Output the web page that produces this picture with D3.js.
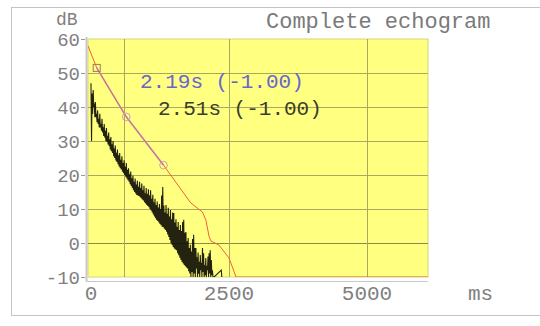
<!DOCTYPE html>
<html>
<head>
<meta charset="utf-8">
<script src="https://cdn.jsdelivr.net/npm/d3@7"></script>
<style>
  body { margin: 0; background: #fff; }
  text { font-family: "Liberation Mono", "Courier New", monospace; }
</style>
</head>
<body>
<div id="chart-area"></div>
<script>
/*
*    echogram
*/

// axis ticks
var yTicks = [60, 50, 40, 30, 20, 10, 0, -10];
var xTickLabels = [0, 2500, 5000];
var xGrid = [600, 2500, 5000];

// decay curve (red)
var redTime = [-54, 104, 639, 1314, 1807, 2020, 2080, 2141, 2172, 2318, 2500, 2628, 6105];
var redDb   = [58, 51.5, 37.1, 22.9, 11.8, 9.1, 6.8, 1.8, 0.6, -0.6, -4.4, -10, -10];

// evaluation points
var markerTime = [104, 639, 1314];
var markerDb   = [51.5, 37.1, 22.9];

// echogram samples (ms)
var echoTime = [0, 20, 40, 60, 80, 100, 120, 140, 160, 180,
	200, 220, 240, 260, 280, 300, 320, 340, 360, 380,
	400, 420, 440, 460, 480, 500, 520, 540, 560, 580,
	600, 620, 640, 660, 680, 700, 720, 740, 760, 780,
	800, 820, 840, 860, 880, 900, 920, 940, 960, 980,
	1000, 1020, 1040, 1060, 1080, 1100, 1120, 1140, 1160, 1180,
	1200, 1220, 1240, 1260, 1280, 1300, 1320, 1340, 1360, 1380,
	1400, 1420, 1440, 1460, 1480, 1500, 1520, 1540, 1560, 1580,
	1600, 1620, 1640, 1660, 1680, 1700, 1720, 1740, 1760, 1780,
	1800, 1820, 1840, 1860, 1880, 1900, 1920, 1940, 1960, 1980,
	2000, 2020, 2040, 2060, 2080, 2100, 2120, 2140, 2160, 2180,
	2200, 2220, 2360];
var echoHigh = [47, 44, 45, 41, 41.5, 38, 39, 36.5, 38, 35,
	36.5, 34, 35, 33, 33.8, 31.5, 32.5, 30.5, 31.2, 29,
	30, 27.8, 28.7, 26.5, 27.5, 25.8, 26.5, 24.5, 25.5, 23.5,
	24.3, 22.4, 23.5, 21.5, 22, 20.2, 21, 19, 19.8, 18,
	19, 17.2, 18.3, 16.5, 18, 16.2, 17.5, 15.5, 16.8, 14.6,
	16.2, 14.4, 15.8, 14, 15.5, 13, 14.2, 12, 13, 11.2,
	12.2, 10.4, 11.5, 10, 14, 16.5, 11, 9, 11.2, 8.6,
	10.4, 7.8, 9.7, 7, 9, 8.8, 6, 7, 4.8, 6.2,
	3.8, 5.3, 3.5, 6.2, 6.8, 3, 3.2, 0.5, 1.5, -1.5,
	-0.5, -2.5, 1.2, 2.4, -1.5, -1.5, -4.2, -2.8, -5.5, -3.5,
	-5.8, -1.5, -3, -6.5, -4.4, -6.8, -4, -3, -2.1, -5,
	-8, -10, -8];
var echoLow = [30, 38, 40, 37, 37, 35.5, 35, 34, 34, 33,
	32.5, 31.5, 31, 30, 29.7, 29, 28.5, 27.5, 27, 26.5,
	25.5, 25, 24.3, 23.8, 23.2, 22.5, 22, 21.6, 21, 20.5,
	20, 19.5, 19, 18.5, 18, 17.3, 16.8, 16.2, 15.5, 15,
	14.6, 14.1, 14, 13.8, 13.5, 13.2, 12.8, 12.5, 12, 11.6,
	11.2, 10.9, 10.5, 10, 9.6, 9, 8.4, 7.8, 7.3, 6.8,
	6.5, 6, 5.6, 5.2, 4.8, 4.6, 4.2, 3.8, 3.3, 2.5,
	1.8, 0.9, 0, -0.6, -1.2, -1.6, -1.9, -2.1, -3, -3.6,
	-4.3, -5, -5.6, -6, -6.5, -6.8, -7.2, -7.5, -8.3, -9,
	-10, -8.5, -10, -9, -10, -7.5, -10, -9, -10, -8,
	-10, -8.5, -10, -9.5, -10, -8, -10, -9, -10, -9.5,
	-10, -10, -10];

var rt1 = "2.19s (-1.00)", rt2 = "2.51s (-1.00)";

var width = 540, height = 326;
var plot = {left: 88, right: 428, top: 39, bottom: 277};

var svg = d3.select("#chart-area")
	.append("svg")
		.attr("width", width)
		.attr("height", height);

// outer frame
svg.append("rect")
	.attr("x", 11.5).attr("y", 7.5)
	.attr("width", 540).attr("height", 308)
	.attr("fill", "none")
	.attr("stroke", "#c4c4c4");

var xScale = d3.scaleLinear()
	.domain([-54, 6105])
	.range([plot.left, plot.right]);
var yScale = d3.scaleLinear()
	.domain([-10, 60])
	.range([plot.bottom, plot.top]);

// yellow area
svg.append("rect")
	.attr("x", plot.left).attr("y", plot.top)
	.attr("width", plot.right - plot.left)
	.attr("height", plot.bottom - plot.top)
	.attr("fill", "#ffff80")
	.attr("stroke", "#d6d67a");

svg.append("clipPath").attr("id", "clip")
	.append("rect")
	.attr("x", plot.left).attr("y", plot.top - 1)
	.attr("width", plot.right - plot.left)
	.attr("height", plot.bottom - plot.top + 1);

// grid
var grid = svg.append("g");
grid.selectAll("line.h")
	.data(yTicks.filter(function(d){ return d > -10 && d < 60; }))
	.enter().append("line")
		.attr("x1", plot.left).attr("x2", plot.right)
		.attr("y1", function(d){ return Math.round(yScale(d)) + 0.5; })
		.attr("y2", function(d){ return Math.round(yScale(d)) + 0.5; })
		.attr("stroke", function(d){ return d == 0 ? "#8a8a4a" : "#a8a860"; });
grid.selectAll("line.v")
	.data(xGrid)
	.enter().append("line")
		.attr("y1", plot.top).attr("y2", plot.bottom)
		.attr("x1", function(d){ return Math.round(xScale(d)) + 0.5; })
		.attr("x2", function(d){ return Math.round(xScale(d)) + 0.5; })
		.attr("stroke", "#a8a860");

// axis lines
svg.append("line")
	.attr("x1", 86.5).attr("x2", 86.5)
	.attr("y1", 37).attr("y2", 281)
	.attr("stroke", "#c8c8c8").attr("stroke-width", 2);
svg.append("line")
	.attr("x1", 86).attr("x2", plot.right)
	.attr("y1", 281.5).attr("y2", 281.5)
	.attr("stroke", "#c8c8c8");

// y axis labels + ticks
var yAxis = svg.append("g");
yTicks.forEach(function(d){
	var y = yScale(d);
	yAxis.append("line")
		.attr("x1", 81).attr("x2", 85)
		.attr("y1", Math.round(y) + 0.5).attr("y2", Math.round(y) + 0.5)
		.attr("stroke", "#9a9a9a");
	yAxis.append("text")
		.attr("x", 80).attr("y", y + 6.5)
		.attr("text-anchor", "end")
		.attr("font-size", "19px")
		.attr("fill", "#808080")
		.text(d);
});
svg.append("text")
	.attr("x", 56).attr("y", 25)
	.attr("font-size", "18px")
	.attr("fill", "#808080")
	.text("dB");

// x axis labels
svg.selectAll("text.xl")
	.data(xTickLabels)
	.enter().append("text")
		.attr("x", function(d){ return xScale(d); })
		.attr("y", 300)
		.attr("text-anchor", "middle")
		.attr("font-size", "21px")
		.attr("fill", "#808080")
		.text(function(d){ return d; });
svg.append("text")
	.attr("x", 468).attr("y", 300)
	.attr("font-size", "21px")
	.attr("fill", "#808080")
	.text("ms");

// title
svg.append("text")
	.attr("x", 266).attr("y", 28)
	.attr("font-size", "22px")
	.attr("fill", "#7a7a7a")
	.text("Complete echogram");

var plotG = svg.append("g").attr("clip-path", "url(#clip)");

// echogram
var echoPts = [];
echoTime.forEach(function(t, i){
	echoPts.push([xScale(t), yScale(echoHigh[i])]);
	echoPts.push([xScale(t) + 0.55, yScale(echoLow[i])]);
});
plotG.append("path")
	.attr("d", d3.line()(echoPts))
	.attr("fill", "none")
	.attr("stroke", "#101006")
	.attr("stroke-width", 1.1)
	.attr("stroke-opacity", 0.92);

// regression line under decay
var redLine = d3.line()
	.x(function(d){ return xScale(d[0]); })
	.y(function(d){ return yScale(d[1]); });
plotG.append("path")
	.attr("d", redLine(d3.zip(markerTime, markerDb)))
	.attr("fill", "none")
	.attr("stroke", "#b0a4ec")
	.attr("stroke-width", 1.8);
plotG.append("path")
	.attr("d", redLine(d3.zip(redTime, redDb)))
	.attr("fill", "none")
	.attr("stroke", "#f4603a")
	.attr("stroke-width", 1);

// markers
markerTime.forEach(function(t, i){
	if (i == 0) {
		plotG.append("rect")
			.attr("x", xScale(t) - 3.5).attr("y", yScale(markerDb[i]) - 3.5)
			.attr("width", 7).attr("height", 7)
			.attr("fill", "none").attr("stroke", "#9a7a6a");
	} else {
		plotG.append("circle")
			.attr("cx", xScale(t)).attr("cy", yScale(markerDb[i]))
			.attr("r", 3.8)
			.attr("fill", "none").attr("stroke", "#c8a0b8");
	}
});

// reverb time labels
svg.append("text")
	.attr("x", 140).attr("y", 88)
	.attr("font-size", "21px")
	.attr("fill", "#6666d0")
	.text(rt1);
svg.append("text")
	.attr("x", 158).attr("y", 115)
	.attr("font-size", "21px")
	.attr("fill", "#3c3c2c")
	.text(rt2);
</script>
</body>
</html>
